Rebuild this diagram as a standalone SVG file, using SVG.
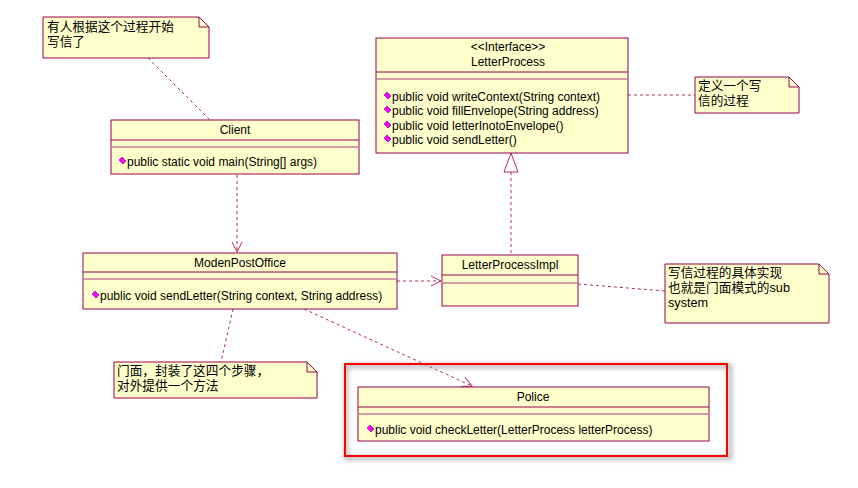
<svg xmlns="http://www.w3.org/2000/svg" width="858" height="488" viewBox="0 0 858 488">
<style>
.box{fill:#FFFFCC;stroke:#99004D;stroke-width:1}
.sep{stroke:#99004D;stroke-width:1}
.sep2{stroke:#CC7A99;stroke-width:1.5}
.note{fill:#FFFFCC;stroke:#99004D;stroke-width:1}
.fold{fill:none;stroke:#99004D;stroke-width:1}
.t{font-family:"Liberation Sans",Arial,sans-serif;font-size:12px;fill:#000}
.c{text-anchor:middle}
.n{font-family:"Liberation Sans","Noto Sans CJK SC",sans-serif;font-size:12.7px;fill:#000}
.dash{fill:none;stroke:#B0305F;stroke-width:1;stroke-dasharray:3,3}
.icon{fill:#FF00FF;stroke:#660066;stroke-width:0.6}
</style>
<defs>
<marker id="open" markerWidth="12" markerHeight="12" refX="11" refY="6" orient="auto" markerUnits="userSpaceOnUse">
<path d="M1,1 L11,6 L1,11" fill="none" stroke="#B0305F" stroke-width="1"/>
</marker>
<filter id="blur" x="-10%" y="-20%" width="120%" height="140%"><feGaussianBlur stdDeviation="2.5"/></filter>
<path id="ic" d="M-3,-1 L0,-4 L4,0 L1,3 Z" class="icon"/>
</defs>

<g id="connectors">
<line class="dash" x1="148" y1="58" x2="210" y2="120"/>
<line class="dash" x1="237" y1="175" x2="237" y2="252" marker-end="url(#open)"/>
<line class="dash" x1="511" y1="172" x2="511" y2="255"/>
<path d="M511,153 L504,172 L518,172 Z" fill="#fff" stroke="#B0305F" stroke-width="1"/>
<line class="dash" x1="628" y1="95" x2="695" y2="95"/>
<line class="dash" x1="397" y1="281" x2="441" y2="281" marker-end="url(#open)"/>
<line class="dash" x1="578" y1="284" x2="665" y2="291"/>
<line class="dash" x1="233" y1="309" x2="221" y2="362"/>
<line class="dash" x1="304" y1="309" x2="472" y2="386" marker-end="url(#open)"/>
</g>

<g id="note1">
<path class="note" d="M43,17 H199 L209,27 V58 H43 Z"/>
<path class="fold" d="M199,17 V27 H209"/>
<text class="n" x="47" y="31">有人根据这个过程开始</text>
<text class="n" x="47" y="46">写信了</text>
</g>

<g id="Client">
<rect class="box" x="111" y="120" width="248" height="54"/>
<line class="sep" x1="111" y1="140" x2="359" y2="140"/>
<line class="sep2" x1="111" y1="147" x2="359" y2="147"/>
<text class="t c" x="235" y="134">Client</text>
<use href="#ic" x="122" y="161"/>
<text class="t" x="127" y="166">public static void main(String[] args)</text>
</g>

<g id="LetterProcess">
<rect class="box" x="376" y="38" width="252" height="115"/>
<line class="sep" x1="376" y1="72" x2="628" y2="72"/>
<line class="sep2" x1="376" y1="79" x2="628" y2="79"/>
<text class="t c" x="508" y="51">&lt;&lt;Interface&gt;&gt;</text>
<text class="t c" x="508" y="66">LetterProcess</text>
<use href="#ic" x="387" y="96"/>
<text class="t" x="392" y="101">public void writeContext(String context)</text>
<use href="#ic" x="387" y="110"/>
<text class="t" x="392" y="115">public void fillEnvelope(String address)</text>
<use href="#ic" x="387" y="125"/>
<text class="t" x="392" y="130">public void letterInotoEnvelope()</text>
<use href="#ic" x="387" y="139"/>
<text class="t" x="392" y="144">public void sendLetter()</text>
</g>

<g id="note2">
<path class="note" d="M695,77 H789 L799,87 V113 H695 Z"/>
<path class="fold" d="M789,77 V87 H799"/>
<text class="n" x="698" y="90">定义一个写</text>
<text class="n" x="698" y="105">信的过程</text>
</g>

<g id="ModenPostOffice">
<rect class="box" x="83" y="253" width="314" height="56"/>
<line class="sep" x1="83" y1="272" x2="397" y2="272"/>
<line class="sep2" x1="83" y1="279" x2="397" y2="279"/>
<text class="t c" x="240" y="267">ModenPostOffice</text>
<use href="#ic" x="95" y="295"/>
<text class="t" x="100" y="300">public void sendLetter(String context, String address)</text>
</g>

<g id="LetterProcessImpl">
<rect class="box" x="442" y="255" width="136" height="51"/>
<line class="sep" x1="442" y1="275" x2="578" y2="275"/>
<line class="sep2" x1="442" y1="283" x2="578" y2="283"/>
<text class="t c" x="510" y="269">LetterProcessImpl</text>
</g>

<g id="note3">
<path class="note" d="M665,264 H819 L829,274 V323 H665 Z"/>
<path class="fold" d="M819,264 V274 H829"/>
<text class="n" x="668" y="277">写信过程的具体实现</text>
<text class="n" x="668" y="292">也就是门面模式的sub</text>
<text class="n" x="668" y="307">system</text>
</g>

<g id="note4">
<path class="note" d="M114,362 H307 L317,372 V398 H114 Z"/>
<path class="fold" d="M307,362 V372 H317"/>
<text class="n" x="117" y="375">门面，封装了这四个步骤，</text>
<text class="n" x="117" y="390">对外提供一个方法</text>
</g>

<g id="highlight">
<rect x="346" y="366" width="384" height="92" fill="none" stroke="#999" stroke-width="3" filter="url(#blur)"/>
<rect x="345" y="364" width="382" height="92" fill="none" stroke="#FF0000" stroke-width="2"/>
</g>

<g id="Police">
<rect class="box" x="358" y="387" width="351" height="54"/>
<line class="sep" x1="358" y1="407" x2="709" y2="407"/>
<line class="sep2" x1="358" y1="414" x2="709" y2="414"/>
<text class="t c" x="533" y="401">Police</text>
<use href="#ic" x="370" y="429"/>
<text class="t" x="375" y="434">public void checkLetter(LetterProcess letterProcess)</text>
</g>
</svg>
